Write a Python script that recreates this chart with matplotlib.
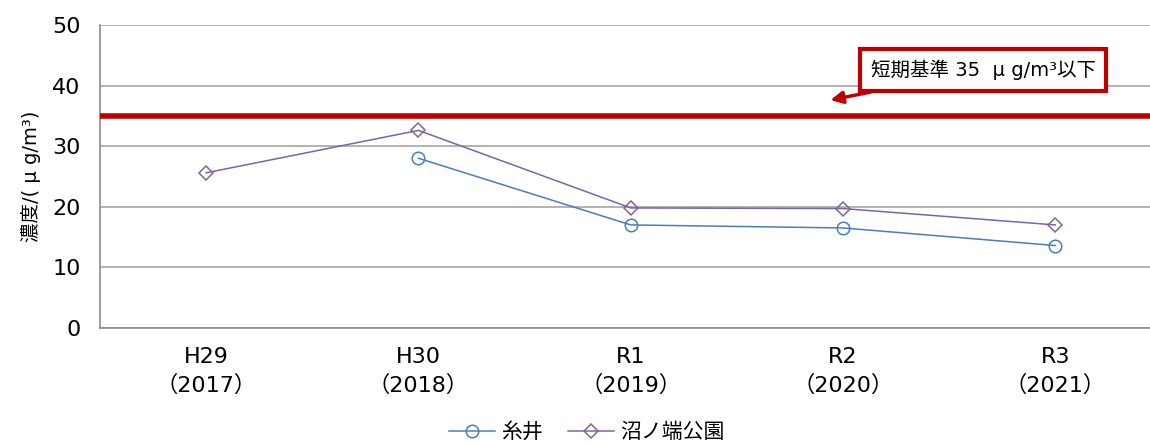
import matplotlib.pyplot as plt

plt.rcParams['font.family'] = ['DejaVu Sans', 'Noto Sans CJK JP']

years = ['H29\n（2017）', 'H30\n（2018）', 'R1\n（2019）', 'R2\n（2020）', 'R3\n（2021）']
itoi = [None, 28.0, 17.0, 16.5, 13.6]
numanohata = [25.6, 32.6, 19.8, 19.7, 17.0]
standard = 35

x = list(range(len(years)))

fig = plt.figure(figsize=(11.5, 4.45), dpi=100)
ax = fig.add_axes([0.087, 0.263, 0.923, 0.681])

ax.set_xlim(-0.5, 4.5)
ax.set_ylim(0, 50)
ax.set_yticks(range(0, 51, 10))
ax.grid(axis='y', color='#A6A6A6', linewidth=1.2)
ax.set_axisbelow(True)
for s in ['top', 'right']:
    ax.spines[s].set_visible(False)
for s in ['left', 'bottom']:
    ax.spines[s].set_color('#8C8C8C')
    ax.spines[s].set_linewidth(1.2)
ax.tick_params(axis='y', length=0, labelsize=16, pad=14)
ax.tick_params(axis='x', length=0, labelsize=16, pad=14)
ax.set_xticks(x)
ax.set_xticklabels(years, linespacing=1.4)

ax.axhline(standard, color='#C00000', linewidth=4, zorder=3)

xi = [i for i, v in zip(x, itoi) if v is not None]
yi = [v for v in itoi if v is not None]
ax.plot(xi, yi, color='#4A7EBB', linewidth=1.1, marker='o', markersize=9,
        markerfacecolor='none', markeredgewidth=1.1, label='糸井', zorder=4)
ax.plot(x, numanohata, color='#8064A2', linewidth=1.1, marker='D', markersize=7,
        markerfacecolor='none', markeredgewidth=1.1, label='沼ノ端公園', zorder=4)

ax.set_ylabel('濃度/( μ g/m³)', fontsize=14, labelpad=8)

ax.annotate('短期基準 35  μ g/m³以下', xy=(2.94, 37.6), xytext=(3.13, 42.6),
            fontsize=14, ha='left', va='center',
            bbox=dict(boxstyle='square,pad=0.55', fc='white', ec='#C00000', lw=3),
            arrowprops=dict(arrowstyle='-|>', color='#C00000', lw=2.5,
                            mutation_scale=18, shrinkA=0, shrinkB=0))

fig.legend(loc='lower center', bbox_to_anchor=(0.51, -0.035), ncol=2, frameon=False,
           fontsize=15, handlelength=2.2, columnspacing=1.2, handletextpad=0.3)

fig.savefig('out.png', dpi=100)
